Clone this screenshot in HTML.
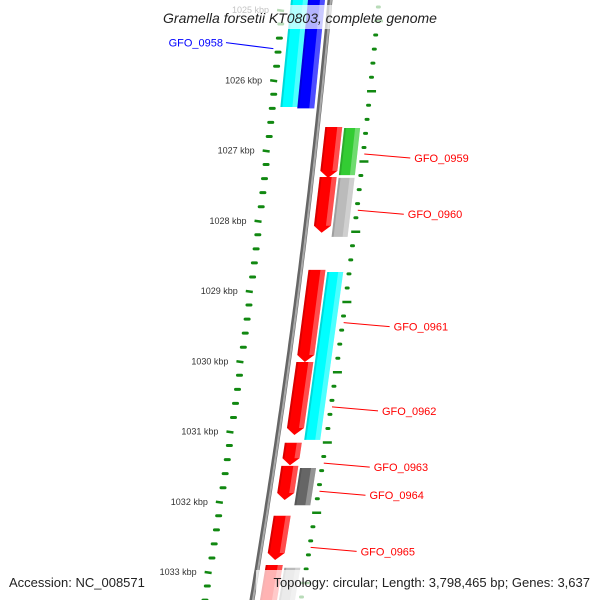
<!DOCTYPE html>
<html><head><meta charset="utf-8"><style>
body{margin:0;background:#fff}
svg{display:block;font-family:"Liberation Sans","DejaVu Sans",sans-serif}
</style></head><body>
<svg id="map" width="600" height="600" viewBox="0 0 600 600"></svg>
<script>
// data arrays
const geneNames = ["GFO_0958a","GFO_0958","GFO_0959","GFO_0959x","GFO_0960","GFO_0960x","GFO_0961","GFO_0961x","GFO_0962","GFO_0963","GFO_0964","GFO_0964x","GFO_0965","GFO_0966","GFO_0966x"];
const geneStart = [1024.80,1024.80,1026.665,1026.68,1027.377,1027.39,1028.70,1028.73,1030.01,1031.16,1031.49,1031.52,1032.20,1032.90,1032.94];
const geneEnd   = [1026.38,1026.40,1027.39,1027.35,1028.17,1028.23,1030.01,1031.12,1031.05,1031.48,1031.975,1032.05,1032.83,1033.60,1033.60];
const geneStrand= [-1,-1,1,1,1,1,1,1,1,1,1,1,1,1,1];
const geneLayer = [2,1,1,2,1,2,1,2,1,1,1,2,1,1,2];
const geneColor = ["#00ffff","#0000ff","#ff0000","#33cc33","#ff0000","#bbbbbb","#ff0000","#00ffff","#ff0000","#ff0000","#ff0000","#666666","#ff0000","#ff0000","#bbbbbb"];
const labelText = ["GFO_0958","GFO_0959","GFO_0960","GFO_0961","GFO_0962","GFO_0963","GFO_0964","GFO_0965"];
const labelKbp  = [1025.55,1027.05,1027.85,1029.45,1030.65,1031.45,1031.85,1032.65];
const labelStrand=[-1,1,1,1,1,1,1,1];
const tickKbp = [1025,1026,1027,1028,1029,1030,1031,1032,1033];

const svgEl=document.getElementById('map');
const NS="http://www.w3.org/2000/svg";
function Y(k){return 10+(k-1025)*70.25;}
function F(y){return 330-0.0925*y-0.0000625*y*y;}
function X(y,o){return F(y)+o;}
function mk(tag,attrs,parent){const e=document.createElementNS(NS,tag);for(const k in attrs)e.setAttribute(k,attrs[k]);(parent||svgEl).appendChild(e);return e;}

// tick rings
for(let k=1024.8;k<=1033.61;k+=0.2){
  const kk=Math.round(k*10)/10;
  const major=Math.abs(kk-Math.round(kk))<0.01;
  const y=Y(kk);
  const t=mk('line',{x1:X(y,major?-52:-49),y1:y,x2:X(y,-45),y2:y+(major?1:0),stroke:'#118811','stroke-width':major?2.5:3,'stroke-linecap':major?'butt':'round'});
  
  
  const y2=y+11;
  const t2=mk('line',{x1:X(y2,major?46:48),y1:y2,x2:X(y2,major?55:50),y2:y2,stroke:'#118811','stroke-width':major?2.5:3,'stroke-linecap':major?'butt':'round'});
  
  
}
tickKbp.forEach(k=>{
  const y=Y(k);
  const t=mk('text',{x:X(y,-60),y:y+3,'font-size':9,fill:'#333','text-anchor':'end'});
  t.textContent=k+' kbp';
  
  
});

// backbone
let pd='';for(let y=-5;y<=605;y+=5)pd+=(pd?'L':'M')+F(y).toFixed(1)+' '+y;
const b1=mk('path',{d:pd,stroke:'#666',fill:'none','stroke-width':5});


mk('path',{d:pd,stroke:'#aaa',fill:'none','stroke-width':2,transform:'translate(1,0)'});

// genes
geneStart.forEach((s,i)=>{
  const y1=Y(s),y2=Y(geneEnd[i]);
  const sgn=geneStrand[i],L=geneLayer[i];
  let o1,o2;
  if(sgn>0){o1=L==1?8:27;o2=L==1?25:43;}else{o1=L==1?-22:-39;o2=L==1?-5:-22;}
  const arrow=(L==1&&sgn>0);
  let pts;
  if(arrow){const m=(o1+o2)/2;pts=[[X(y1,o1),y1],[X(y1,o2),y1],[X(y2-7,o2),y2-7],[X(y2,m),y2],[X(y2-7,o1),y2-7]];}
  else pts=[[X(y1,o1),y1],[X(y1,o2),y1],[X(y2,o2),y2],[X(y2,o1),y2]];
  const g=mk('polygon',{points:pts.map(p=>p.join(',')).join(' '),fill:geneColor[i]});
  
  
  const ye=y2-(arrow?7:0);
  const hs=[[X(y1,o2-5),y1],[X(y1,o2),y1],[X(ye,o2),ye],[X(ye,o2-5),ye]];
  mk('polygon',{points:hs.map(p=>p.join(',')).join(' '),fill:'#fff','fill-opacity':0.3});
  const sh=[[X(y1,o1),y1],[X(y1,o1+2),y1],[X(ye,o1+2),ye],[X(ye,o1),ye]];
  mk('polygon',{points:sh.map(p=>p.join(',')).join(' '),fill:'#000','fill-opacity':0.15});
});

// labels
labelText.forEach((t,i)=>{
  const y=Y(labelKbp[i]);
  const col=labelStrand[i]>0?'#ff0000':'#0000ff';
  if(labelStrand[i]>0){
    const x1=X(y,50);
    const x2=x1+46,ty=y+4;
    const l=mk('line',{x1:x1,y1:y,x2:x2,y2:ty,stroke:col,'stroke-width':1});
    
    
    const tx=mk('text',{x:x2+4,y:ty+4,'font-size':11,fill:col});
    tx.textContent=t;
    
    
  }else{
    const x1=X(y,-52);
    const l=mk('line',{x1:x1,y1:y,x2:226,y2:y-6,stroke:col,'stroke-width':1});
    
    
    const tx=mk('text',{x:223,y:y-2,'font-size':11,fill:col,'text-anchor':'end'});
    tx.textContent=t;
    
    
  }
});

// title & footer
mk('rect',{x:148,y:5,width:304,height:24,fill:'#fff','fill-opacity':0.7});
const titleText=mk('text',{x:300,y:23,'font-size':14,'font-style':'italic','text-anchor':'middle',fill:'#222'});
titleText.textContent='Gramella forsetii KT0803, complete genome';


mk('rect',{x:0,y:570,width:150,height:30,fill:'#fff','fill-opacity':0.7});
const accText=mk('text',{x:9,y:587,'font-size':13,fill:'#222'});
accText.textContent='Accession: NC_008571';


mk('rect',{x:256,y:570,width:344,height:30,fill:'#fff','fill-opacity':0.7});
const topoText=mk('text',{x:590,y:587,'font-size':13,fill:'#222','text-anchor':'end'});
topoText.textContent='Topology: circular; Length: 3,798,465 bp; Genes: 3,637';


</script>
</body></html>
